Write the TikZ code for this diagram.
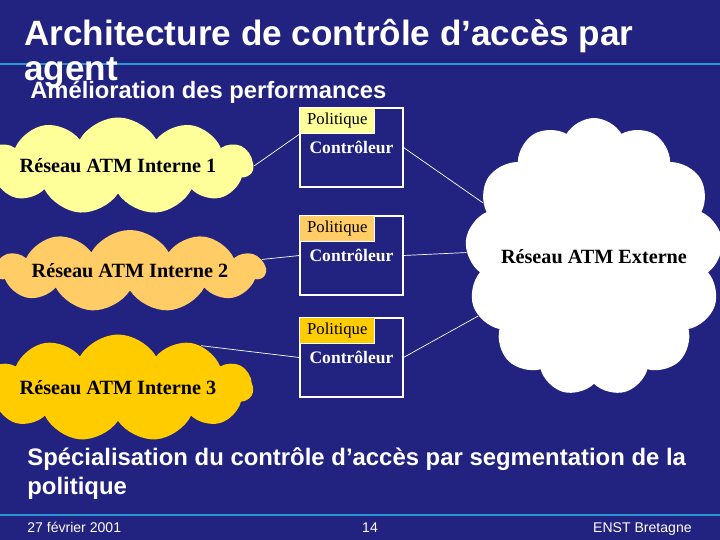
\documentclass[tikz,border=0pt]{standalone}
\usepackage{fontspec}
\setmainfont{Liberation Serif}
\setsansfont{Liberation Sans}
\usetikzlibrary{shapes.symbols}
\definecolor{fond}{RGB}{34,34,128}
\definecolor{filet}{RGB}{40,150,210}
\definecolor{jaune1}{RGB}{255,255,153}
\definecolor{jaune2}{RGB}{255,204,102}
\definecolor{jaune3}{RGB}{255,204,0}
\tikzset{
  nuage/.style={cloud,cloud puffs=11,cloud puff arc=120,cloud ignores aspect,inner sep=0pt,
    font=\bfseries\fontsize{11.5}{13}\selectfont},
  ctrl/.style={draw=white,line width=0.6pt,minimum width=2.06cm,minimum height=1.58cm,inner sep=0pt,
    text=white,font=\bfseries\fontsize{10}{12}\selectfont},
  pol/.style={draw=white,line width=0.4pt,anchor=north west,minimum width=1.5cm,minimum height=0.52cm,
    inner sep=0pt,font=\fontsize{9.5}{11}\selectfont},
  lien/.style={white,line width=0.4pt},
  titre/.style={anchor=base west,inner sep=0pt,text=white,font=\sffamily\bfseries},
  pied/.style={anchor=base,inner sep=0pt,text=white,font=\sffamily\fontsize{8}{10}\selectfont},
}
\begin{document}
\begin{tikzpicture}[x=0.02cm,y=-0.02cm]
\useasboundingbox (0,0) rectangle (720,540);
\clip (0,0) rectangle (720,540);
\fill[fond] (0,0) rectangle (720,540);
\draw[filet,line width=1.5pt] (0,64)--(720,64); \draw[filet,line width=1.5pt] (0,515)--(720,515);
% titres
\node[titre,align=left,font=\sffamily\bfseries\fontsize{20}{20.4}\selectfont] (t) at (24,81) {Architecture de contrôle d’accès par\\agent};
\node[titre,font=\sffamily\bfseries\fontsize{13.5}{15}\selectfont] (st) at (30,99) {Amélioration des performances};
% reseaux
\node[nuage,fill=jaune1,minimum width=4.9cm,minimum height=1.94cm] (n1) at (118,166) {Réseau ATM Interne 1};
\node[nuage,fill=jaune2,minimum width=4.86cm,minimum height=1.64cm] (n2) at (130,271) {Réseau ATM Interne 2};
\node[nuage,fill=jaune3,minimum width=4.9cm,minimum height=2.14cm] (n3) at (118,388) {Réseau ATM Interne 3};
\node[nuage,fill=white,cloud puffs=13,minimum width=5.06cm,minimum height=5.56cm] (ext) at (594,257) {Réseau ATM Externe};
% controleurs
\node[ctrl] (c1) at (351.5,147.5) {Contrôleur};
\node[pol,fill=jaune1] (p1) at (c1.north west) {Politique};
\node[ctrl] (c2) at (351.5,255.5) {Contrôleur};
\node[pol,fill=jaune2] (p2) at (c2.north west) {Politique};
\node[ctrl] (c3) at (351.5,357.5) {Contrôleur};
\node[pol,fill=jaune3] (p3) at (c3.north west) {Politique};
% liens
\draw[lien] (n1.east) -- (p1.south west); \draw[lien] (c1.east) -- (ext.154);
\draw[lien] (n2.5) -- (c2.west); \draw[lien] (c2.east) -- (ext.178);
\draw[lien] (n3.27) -- (c3.west); \draw[lien] (c3.east) -- (ext.207);
% bas de page
\node[titre,align=left,font=\sffamily\bfseries\fontsize{13.6}{16}\selectfont] (b) at (27,494) {Spécialisation du contrôle d’accès par segmentation de la\\politique};
\node[pied,anchor=base west] (d) at (27,532) {27 février 2001};
\node[pied] (num) at (370,532) {14};
\node[pied,anchor=base east] (e) at (692,532) {ENST Bretagne};
\end{tikzpicture}
\end{document}
